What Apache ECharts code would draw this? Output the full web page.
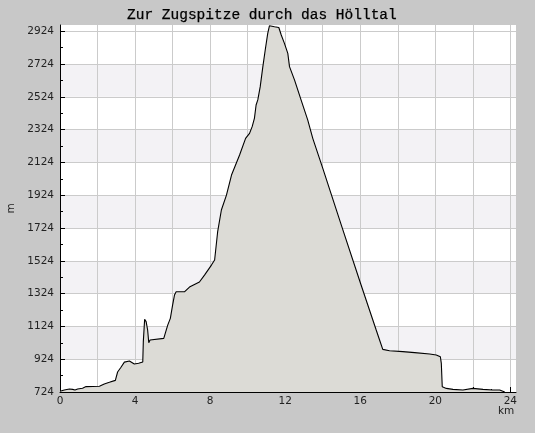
<!DOCTYPE html>
<html>
<head>
<meta charset="utf-8">
<script src="https://cdn.jsdelivr.net/npm/echarts@6/dist/echarts.min.js"></script>
<style>
  html, body { margin: 0; padding: 0; background: #c8c8c8; }
  #chart { width: 535px; height: 433px; }
</style>
</head>
<body>
<div id="chart"></div>
<script>
// Distance along the route (km)
const distanceKm = [
  0, 0.23, 0.5, 0.67, 0.8, 0.94, 1.03, 1.2, 1.39, 2.1, 2.36, 2.63, 2.95, 3.07, 3.25, 3.43, 3.7, 3.96, 4.19, 4.41,
  4.44, 4.51, 4.59, 4.67, 4.73, 4.8, 5.53, 5.74, 5.88, 6.0, 6.1, 6.19, 6.63, 6.72, 6.9, 7.43, 7.7, 8.07, 8.24, 8.4,
  8.6, 8.87, 9.14, 9.57, 9.89, 10.1, 10.24, 10.36, 10.45, 10.54, 10.67, 10.81, 10.95, 11.07, 11.16, 11.43, 11.66, 11.79, 11.96, 12.14,
  12.23, 12.5, 12.85, 13.2, 13.47, 14.0, 15.0, 16.0, 16.85, 17.03, 17.2, 17.56, 18.27, 18.9, 19.7, 20.05, 20.27, 20.32, 20.37, 20.59,
  20.94, 21.47, 22.0, 22.54, 23.07, 23.43, 23.7
];
// Elevation (m)
const elevationM = [
  728, 736, 742, 740, 736, 742, 750, 747, 757, 759, 773, 783, 795, 846, 875, 906, 913, 895, 899, 907,
  1031, 1167, 1153, 1102, 1025, 1041, 1051, 1132, 1173, 1254, 1315, 1335, 1335, 1346, 1364, 1395, 1437, 1498, 1529, 1700,
  1834, 1925, 2047, 2169, 2271, 2301, 2342, 2393, 2474, 2505, 2586, 2708, 2820, 2911, 2957, 2951, 2947, 2901, 2850, 2789,
  2708, 2626, 2504, 2383, 2271, 2089, 1739, 1392, 1102, 1041, 984, 976, 970, 964, 956, 950, 939, 899, 756, 746,
  740, 736, 746, 740, 736, 736, 724
];
// Tick values
const yMajorTicks = [724, 924, 1124, 1324, 1524, 1724, 1924, 2124, 2324, 2524, 2724, 2924];
const yMinorTicks = [824, 1024, 1224, 1424, 1624, 1824, 2024, 2224, 2424, 2624, 2824];
const xMajorTicks = [0, 2, 4, 6, 8, 10, 12, 14, 16, 18, 20, 22, 24];
const xLabelTicks = [0, 4, 8, 12, 16, 20, 24];
const xMinorTicks = [1, 3, 5, 7, 9, 11, 13, 15, 17, 19, 21, 23];
const yMin = 724, yMax = 2962, xMin = 0, xMax = 24.3;

const profile = distanceKm.map((d, i) => [d, elevationM[i]]);

const labelFont = { fontFamily: 'DejaVu Sans', fontSize: 10.5, color: '#222' };
const plain = v => String(v);
const chart = echarts.init(document.getElementById('chart'), null, { renderer: 'canvas' });
chart.setOption({
  backgroundColor: '#c8c8c8',
  animation: false,
  title: {
    text: 'Zur Zugspitze durch das Hölltal',
    left: 122, top: 3,
    textStyle: {
      fontFamily: 'Liberation Mono', fontSize: 14.5, fontWeight: 'normal', color: '#000',
      textBorderColor: '#000', textBorderWidth: 0.25
    }
  },
  graphic: [{
    type: 'text', left: 498, top: 406,
    style: { text: 'km', font: '10.5px "DejaVu Sans"', fill: '#222' }
  }],
  grid: {
    left: 60, right: 19, top: 25, bottom: 41,
    show: true, backgroundColor: '#ffffff', borderWidth: 0,
    outerBoundsMode: 'none'
  },
  xAxis: [{
    type: 'value', min: xMin, max: xMax, position: 'bottom',
    axisLine: { show: true, lineStyle: { color: '#000', width: 1 } },
    axisTick: { show: true, inside: true, length: 5, lineStyle: { color: '#000' }, customValues: xMajorTicks },
    axisLabel: Object.assign({ margin: 4, customValues: xLabelTicks, formatter: plain }, labelFont),
    splitLine: { show: true, lineStyle: { color: '#cbcbcb', width: 1 } },
    splitArea: { show: false }
  }, {
    type: 'value', min: xMin, max: xMax, position: 'bottom',
    axisLine: { show: false },
    axisTick: { show: true, inside: true, length: 3, lineStyle: { color: '#000' }, customValues: xMinorTicks },
    axisLabel: { show: false },
    splitLine: { show: false }
  }],
  yAxis: [{
    type: 'value', min: yMin, max: yMax, position: 'left',
    name: 'm', nameLocation: 'middle', nameGap: 43,
    nameTextStyle: labelFont,
    axisLine: { show: true, lineStyle: { color: '#000', width: 1 } },
    axisTick: { show: true, inside: true, length: 5, lineStyle: { color: '#000' }, customValues: yMajorTicks },
    axisLabel: Object.assign({ margin: 6, customValues: yMajorTicks, formatter: plain }, labelFont),
    splitLine: { show: true, lineStyle: { color: '#cbcbcb', width: 1 } },
    splitArea: { show: true, areaStyle: { color: ['#ffffff', '#f3f2f5'] } }
  }, {
    type: 'value', min: yMin, max: yMax, position: 'left',
    axisLine: { show: false },
    axisTick: { show: true, inside: true, length: 3, lineStyle: { color: '#000' }, customValues: yMinorTicks },
    axisLabel: { show: false },
    splitLine: { show: false }
  }],
  series: [{
    type: 'line',
    xAxisIndex: 0, yAxisIndex: 0,
    data: profile,
    symbol: 'none',
    smooth: false,
    lineStyle: { color: '#000', width: 1.1 },
    areaStyle: { color: '#dcdbd6', opacity: 1, origin: 'start' },
    z: 3
  }]
});
</script>
</body>
</html>
